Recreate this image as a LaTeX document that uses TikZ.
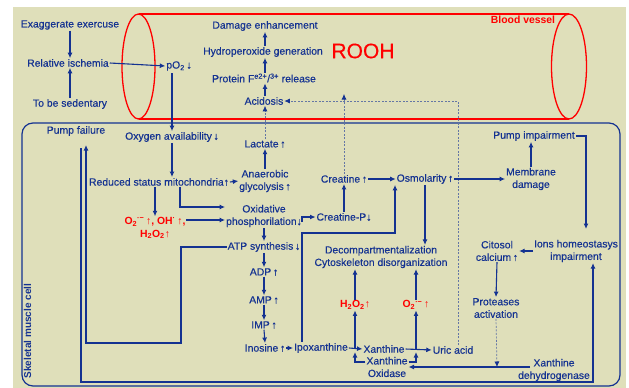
\documentclass[tikz,border=0pt]{standalone}
\usepackage{fontspec}
\setmainfont{Liberation Sans}[UprightFeatures={FakeBold=0.35}]
\usetikzlibrary{arrows.meta,calc}
\definecolor{bg}{RGB}{223,223,186}
\definecolor{dblue}{RGB}{20,50,145}
\definecolor{dashb}{RGB}{100,118,165}
\definecolor{vred}{RGB}{255,0,0}
\begin{document}
\begin{tikzpicture}[x=1pt,y=-1pt,
  every node/.style={font=\fontsize{10.4}{12.5}\selectfont, text=dblue, inner sep=0.8pt, align=center},
  ros/.style={text=vred, font=\fontsize{10.4}{12.5}\selectfont\bfseries},
  arr/.style={draw=dblue, line width=1.1pt, -{Latex[length=5.5pt,width=5pt]}},
  ln/.style={draw=dblue, line width=1.1pt},
  dsh/.style={draw=dashb, line width=0.7pt, dash pattern=on 2pt off 1.5pt, -{Latex[length=5.5pt,width=5pt,color=dblue]}},
]
\useasboundingbox (0,0) rectangle (629,388);
\fill[bg] (13,7) rectangle (626,388);

% blood vessel
\draw[vred, line width=1.3pt] (138.5,66.5) ellipse [x radius=16.5, y radius=52.5];
\draw[vred, line width=1.3pt] (569,66.5) ellipse [x radius=17.5, y radius=52.5];
\draw[vred, line width=2pt] (138.5,14) -- (569,14);
\draw[vred, line width=2pt] (138.5,119) -- (569,119);
\node[text=vred, font=\bfseries\fontsize{10.4}{12}\selectfont] (bv) at (523,20) {Blood vessel};
\node[text=vred, font=\fontsize{21}{24}\selectfont] (rooh) at (363,51) {ROOH};

% skeletal muscle cell
\draw[dblue, line width=1.2pt, rounded corners=11pt] (22,123) rectangle (620,386);
\node[rotate=90, font=\bfseries\fontsize{10}{11}\selectfont] (smc) at (27.5,331) {Skeletal muscle cell};

% left causes
\node (ex) at (70,25) {Exaggerate exercuse};
\node (ri) at (68,63) {Relative ischemia};
\node (sed) at (70,104) {To be sedentary};
\node (po2) at (179,66) {pO\textsubscript{2}\,↓};
\draw[arr] (ex.south) -- (ex.south |- ri.north);
\draw[arr] (sed.north) -- (sed.north |- ri.south);
\draw[arr] (ri.east) -- (po2.west);

% top column
\node (dam) at (265,26) {Damage enhancement};
\node (hyd) at (263,52) {Hydroperoxide generation};
\node (prot) at (264,78) {Protein F\textsuperscript{e2+}/\textsuperscript{3+} release};
\node (acid) at (264,101) {Acidosis};
\node (lac) at (265,144) {Lactate\,↑};
\node (ag) at (265,181) {Anaerobic\\glycolysis\,↑};
\draw[arr] (hyd.north -| dam.south) -- (dam.south);
\draw[arr] (prot.north -| dam.south) -- (hyd.south -| dam.south);
\draw[arr] (acid.north -| dam.south) -- (prot.south -| dam.south);
\draw[dsh] (lac.north) -- (lac.north |- acid.south);
\draw[arr] (ag.north) -- (lac.south);

% mitochondria
\node (oa) at (172,137) {Oxygen availability\,↓};
\node (rsm) at (159,182) {Reduced status mitochondria↑};
\node (pf) at (76,131) {Pump failure};
\coordinate (po2d) at (172,73);
\draw[arr] (po2d) -- (oa.north);
\draw[arr] (oa.south) -- (oa.south |- rsm.north);
\draw[arr] (rsm.east) -- (ag.west);
\node[ros] (ros) at (155,228) {O\textsubscript{2}\textsuperscript{·−}\,↑, OH\textsuperscript{·}\,↑,\\H\textsubscript{2}O\textsubscript{2}↑};
\node (oxp) at (264,216) {Oxidative\\phosphorilation↓};
\draw[arr] (rsm.south -| ros.north) -- (ros.north);
\coordinate (b1) at (180,207);
\draw[arr] (rsm.south -| b1) -- (b1) -- (b1 -| oxp.west);
\coordinate (rosE) at (186,220);
\draw[arr] (rosE) -- (rosE -| oxp.west);

% creatine
\node (cp) at (344,217) {Creatine-P↓};
\node (cr) at (344,179) {Creatine\,↑};
\node (osm) at (425,179) {Osmolarity\,↑};
\coordinate (oxpR) at (302,222);
\draw[arr] (oxpR) |- (cp.west);
\draw[arr] (cp.north) -- (cr.south);
\draw[arr] (cr.east) -- (osm.west);
\coordinate (crd) at (344,94);
\draw[dsh] (cr.north) -- (crd);

% ATP chain
\node (atp) at (264,247) {ATP synthesis\,↓};
\node (adp) at (264,272) {ADP\,↑};
\node (amp) at (264,300) {AMP\,↑};
\node (imp) at (264,325) {IMP\,↑};
\node (ino) at (265,348) {Inosine\,↑};
\node (ipo) at (321,348) {Ipoxanthine};
\node (xan) at (384,349) {Xanthine};
\node (uric) at (453,350) {Uric acid};
\node (xo) at (387,367) {Xanthine\\Oxidase};
\draw[arr] (oxp.south) -- (atp.north);
\draw[arr] (atp.south) -- (adp.north);
\draw[arr] (adp.south) -- (amp.north);
\draw[arr] (amp.south) -- (imp.north);
\draw[arr] (imp.south) -- (ino.north);
\draw[arr] (ino.east) -- (ipo.west);
\draw[arr] (ipo.east) -- (xan.west);
\draw[arr] (xan.east) -- (uric.west);

% enzyme hooks
\coordinate (e1) at (355,362);
\coordinate (e1t) at (355,352);
\coordinate (e2) at (416,362);
\coordinate (e2t) at (416,352);
\draw[arr] (xo.west |- e1) -- (e1) -- (e1t);
\draw[arr] (xo.east |- e2) -- (e2) -- (e2t);

% ROS from xanthine oxidase
\node[ros] (h2o2) at (355,305) {H\textsubscript{2}O\textsubscript{2}↑};
\node[ros] (o2r) at (416,305) {O\textsubscript{2}\textsuperscript{·−}\,↑};
\node (dec) at (381,257) {Decompartmentalization\\Cytoskeleton disorganization};
\draw[arr] (h2o2.south |- xan.west) -- (h2o2.south);
\draw[arr] (o2r.south |- xan.east) -- (o2r.south);
\draw[arr] (h2o2.north) -- (h2o2.north |- dec.south);
\draw[arr] (o2r.north) -- (o2r.north |- dec.south);
\draw[arr] (osm.south) -- (osm.south |- dec.north);

% ipoxanthine -> osmolarity
\coordinate (q1) at (302,233);
\coordinate (q2) at (395,233);
\draw[arr] (ipo.north -| q1) -- (q1) -- (q2) -- (q2 |- osm.south);

% uric acid -> acidosis (dashed)
\coordinate (ud1) at (458,101);
\draw[dsh] (uric.north -| ud1) -- (ud1) -- (acid.east);

% right side
\node (md) at (531,179) {Membrane\\damage};
\node (pi) at (534,136) {Pump impairment};
\node (ions) at (576,251) {Ions homeostasys\\impairment};
\node (cc) at (497,251) {Citosol\\calcium\,↑};
\node (pa) at (496,308) {Proteases\\activation};
\node (xdh) at (554,370) {Xanthine\\dehydrogenase};
\draw[arr] (osm.east) -- (md.west);
\draw[arr] (md.north) -- (md.north |- pi.south);
\coordinate (pk) at (586,136);
\coordinate (ionsTop) at (586,229);
\draw[arr] (pi.east) -- (pk) -- (ionsTop);
\draw[arr] (ions.west) -- (cc.east);
\draw[arr] (cc.south) -- (pa.north);
\coordinate (pd) at (497,367);
\draw[dsh] (pa.south) -- (pd);
\coordinate (xdhL) at (530,367);
\draw[arr] (xdhL) -- (xo.east);

% ATP synthesis -> pump failure (inner loop)
\coordinate (ia) at (181,343);
\coordinate (ib) at (86,343);
\coordinate (ic) at (86,145);
\draw[arr] (atp.west) -| (ia) -- (ib) -- (ic);

% pump failure -> ions homeostasys (outer loop)
\coordinate (oa1) at (81,148);
\coordinate (oa2) at (81,382);
\coordinate (oa3) at (593,382);
\draw[arr] (oa1) -- (oa2) -- (oa3) -- (oa3 |- ions.south);
\end{tikzpicture}
\end{document}
